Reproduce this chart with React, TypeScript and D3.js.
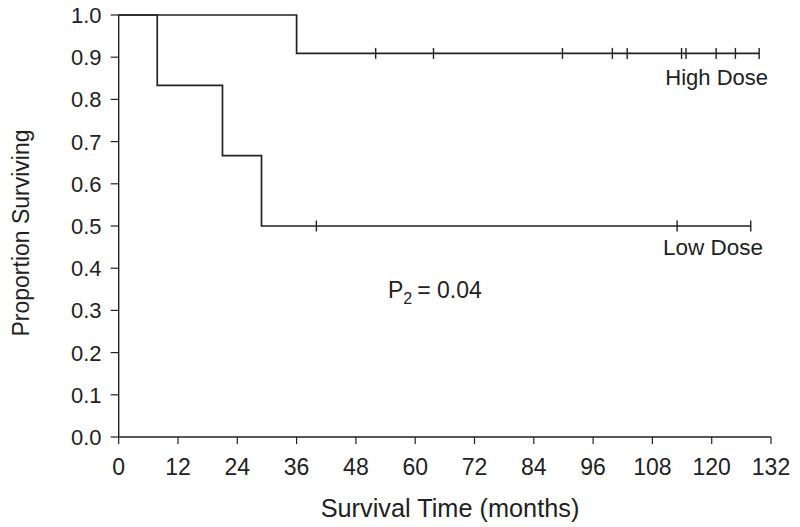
import React from "react";
import * as d3 from "d3";

// High dose arm: step times / survival, censor marks
const highStepTimes = [0, 36];
const highStepSurv = [1.0, 0.909];
const highCensorTimes = [52, 63.7, 89.8, 99.9, 102.9, 113.9, 114.8, 120.9, 124.8, 129.6];
const highEndTime = 129.6;

// Low dose arm
const lowStepTimes = [0, 7.8, 21, 28.9];
const lowStepSurv = [1.0, 0.833, 0.667, 0.5];
const lowCensorTimes = [40, 113, 127.9];
const lowEndTime = 127.9;

const xTicks = [0, 12, 24, 36, 48, 60, 72, 84, 96, 108, 120, 132];
const yTicks = [0, 0.1, 0.2, 0.3, 0.4, 0.5, 0.6, 0.7, 0.8, 0.9, 1.0];

const W = 800;
const H = 527;
const FONT = "'Liberation Sans', Arial, Helvetica, sans-serif";
const INK = "#222";

const x = d3.scaleLinear().domain([0, 132]).range([118.7, 771]);
const y = d3.scaleLinear().domain([0, 1]).range([437, 15]);

function stepPath(times: number[], surv: number[], end: number) {
  const pts: [number, number][] = times.map((t, i) => [t, surv[i]]);
  pts.push([end, surv[surv.length - 1]]);
  const line = d3
    .line<[number, number]>()
    .x((d) => x(d[0]))
    .y((d) => y(d[1]))
    .curve(d3.curveStepAfter);
  return line(pts) || "";
}

function survAt(times: number[], surv: number[], t: number) {
  let s = surv[0];
  times.forEach((tt, i) => {
    if (tt <= t) s = surv[i];
  });
  return s;
}

function Curve({ times, surv, censors, end }: { times: number[]; surv: number[]; censors: number[]; end: number }) {
  return (
    <g>
      <path d={stepPath(times, surv, end)} fill="none" stroke={INK} strokeWidth={1.7} />
      {censors.map((c, i) => {
        const s = survAt(times, surv, c);
        return (
          <line key={i} x1={x(c)} x2={x(c)} y1={y(s) - 5.5} y2={y(s) + 5.5} stroke={INK} strokeWidth={1.4} />
        );
      })}
    </g>
  );
}

export default function App() {
  return (
    <svg
      width={W}
      height={H}
      viewBox={`0 0 ${W} ${H}`}
      style={{ position: "absolute", left: 0, top: 0, background: "#fff" }}
      fontFamily={FONT}
    >
      <rect x={0} y={0} width={W} height={H} fill="#fff" />
      {/* Axes */}
      <line x1={x(0)} x2={x(0)} y1={y(1)} y2={y(0)} stroke={INK} strokeWidth={1.4} />
      <line x1={x(0)} x2={x(132)} y1={y(0)} y2={y(0)} stroke={INK} strokeWidth={1.4} />
      {yTicks.map((t) => (
        <g key={"y" + t}>
          <line x1={x(0) - 8} x2={x(0)} y1={y(t)} y2={y(t)} stroke={INK} strokeWidth={1.2} />
          <text x={101.5} y={y(t)} dy="0.36em" textAnchor="end" fontSize={22} fill={INK}>
            {d3.format(".1f")(t)}
          </text>
        </g>
      ))}
      {xTicks.map((t) => (
        <g key={"x" + t}>
          <line x1={x(t)} x2={x(t)} y1={y(0)} y2={y(0) + 7} stroke={INK} strokeWidth={1.2} />
          <text x={x(t)} y={475} textAnchor="middle" fontSize={23} fill={INK}>
            {t}
          </text>
        </g>
      ))}
      <text x={450} y={517} textAnchor="middle" fontSize={25.3} fill={INK}>
        Survival Time (months)
      </text>
      <text
        transform={`translate(29, 233) rotate(-90)`}
        textAnchor="middle"
        fontSize={23}
        fill={INK}
      >
        Proportion Surviving
      </text>

      <Curve times={highStepTimes} surv={highStepSurv} censors={highCensorTimes} end={highEndTime} />
      <Curve times={lowStepTimes} surv={lowStepSurv} censors={lowCensorTimes} end={lowEndTime} />

      <text x={768} y={85} textAnchor="end" fontSize={22} fill={INK}>
        High Dose
      </text>
      <text x={763} y={255} textAnchor="end" fontSize={22.5} fill={INK}>
        Low Dose
      </text>
      <text x={388} y={298} fontSize={23} fill={INK}>
        P<tspan fontSize={16} dy={6}>2</tspan>
        <tspan dy={-6} dx={5}>= 0.04</tspan>
      </text>
    </svg>
  );
}
